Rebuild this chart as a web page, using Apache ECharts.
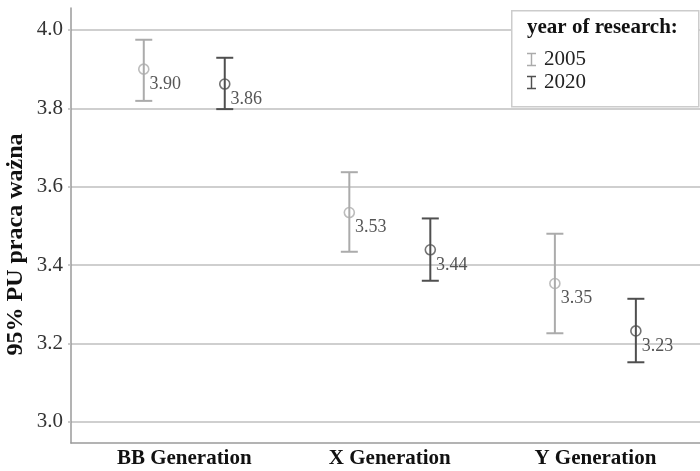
<!DOCTYPE html>
<html>
<head>
<meta charset="utf-8">
<script src="https://cdn.jsdelivr.net/npm/echarts@6/dist/echarts.min.js"></script>
<style>
html,body{margin:0;padding:0;background:#fff;}
#chart{width:700px;height:471px;}
</style>
</head>
<body>
<div id="chart"></div>
<script>
const categories = ['BB Generation', 'X Generation', 'Y Generation'];
const yTicks = [3.0, 3.2, 3.4, 3.6, 3.8, 4.0];
const mean2005 = [3.90, 3.534, 3.353];
const lower2005 = [3.819, 3.434, 3.226];
const upper2005 = [3.975, 3.637, 3.480];
const mean2020 = [3.862, 3.439, 3.232];
const lower2020 = [3.798, 3.360, 3.152];
const upper2020 = [3.929, 3.519, 3.314];

const FONT = 'Liberation Serif';
const C2005 = '#ababab';
const C2020 = '#4f4f4f';
const DODGE = 0.197;

function errData(lo, hi, off) {
  return lo.map((v, i) => [i + off, v, hi[i]]);
}
function ptData(m, off) {
  return m.map((v, i) => [i + off, v]);
}
function errRender(color) {
  return function (params, api) {
    const x = api.value(0), lo = api.value(1), hi = api.value(2);
    const a = api.coord([x, hi]), b = api.coord([x, lo]);
    const hw = 8.5;
    const st = { stroke: color, lineWidth: 2 };
    return {
      type: 'group',
      children: [
        { type: 'line', shape: { x1: a[0], y1: a[1], x2: b[0], y2: b[1] }, style: st },
        { type: 'line', shape: { x1: a[0] - hw, y1: a[1], x2: a[0] + hw, y2: a[1] }, style: st },
        { type: 'line', shape: { x1: b[0] - hw, y1: b[1], x2: b[0] + hw, y2: b[1] }, style: st }
      ]
    };
  };
}
function pointSeries(name, m, off, color) {
  return {
    name: name, type: 'scatter', data: ptData(m, off), z: 5,
    symbol: 'circle', symbolSize: 10,
    itemStyle: { color: 'transparent', borderColor: color, borderWidth: 1.6 },
    label: {
      show: true, position: 'right', distance: 0, offset: [0, 15],
      formatter: p => p.value[1].toFixed(2),
      fontFamily: FONT, fontSize: 18, color: '#2a2a2a'
    },
    emphasis: { disabled: true }
  };
}
const ibeam = 'path://M0,0H10V1.6H5.8V13.4H10V15H0V13.4H4.2V1.6H0Z';

const chart = echarts.init(document.getElementById('chart'), null, { renderer: 'canvas' });
chart.setOption({
  animation: false,
  backgroundColor: '#fff',
  grid: { left: 71, right: 0, top: 8, bottom: 28, containLabel: false, outerBoundsMode: 'none' },
  title: {
    text: 'year of research:', left: 527, top: 17, padding: 0, z: 10,
    textStyle: { fontFamily: FONT, fontSize: 21, fontWeight: 'bold', color: '#111' }
  },
  graphic: [{
    type: 'rect', z: 5, left: 511, top: 10,
    shape: { width: 187, height: 96 },
    style: { fill: '#fff', stroke: '#cccccc', lineWidth: 1.5 }
  }],
  legend: {
    orient: 'vertical', left: 527, top: 48, z: 10, padding: 0,
    itemWidth: 9, itemHeight: 13.5, itemGap: 0,
    textStyle: { fontFamily: FONT, fontSize: 21, lineHeight: 23, color: '#222', padding: [0, 0, 0, 3] },
    data: [
      { name: '2005', icon: ibeam, itemStyle: { color: C2005, borderWidth: 0 } },
      { name: '2020', icon: ibeam, itemStyle: { color: C2020, borderWidth: 0 } }
    ],
    selectedMode: false
  },
  xAxis: {
    type: 'value', min: -0.551, max: 2.509,
    splitLine: { show: false },
    axisTick: { show: false },
    axisLine: { show: true, onZero: false, lineStyle: { color: '#9a9a9a', width: 1.5 } },
    axisLabel: {
      customValues: [0, 1, 2],
      formatter: v => categories[Math.round(v)],
      fontFamily: FONT, fontSize: 21, fontWeight: 'bold', color: '#111', margin: 5
    }
  },
  yAxis: {
    type: 'value', min: 2.946, max: 4.056,
    name: '95% PU praca ważna', nameLocation: 'middle', nameGap: 43, nameMoveOverlap: false,
    nameTextStyle: { fontFamily: FONT, fontSize: 24, fontWeight: 'bold', color: '#111', padding: [0, 38, 0, 0] },
    axisLine: { show: true, onZero: false, lineStyle: { color: '#9a9a9a', width: 1.5 } },
    axisTick: { show: true, length: 3, customValues: yTicks, lineStyle: { color: '#bbbbbb', width: 1.5 } },
    splitLine: { show: true, lineStyle: { color: '#cfcfcf', width: 2 } },
    axisLabel: {
      customValues: yTicks,
      formatter: v => v.toFixed(1),
      fontFamily: FONT, fontSize: 21, color: '#333', margin: 8
    }
  },
  series: [
    {
      name: '2005', type: 'custom', renderItem: errRender(C2005),
      data: errData(lower2005, upper2005, -DODGE), encode: { x: 0, y: [1, 2] }, z: 4
    },
    {
      name: '2020', type: 'custom', renderItem: errRender(C2020),
      data: errData(lower2020, upper2020, DODGE), encode: { x: 0, y: [1, 2] }, z: 4
    },
    pointSeries('2005', mean2005, -DODGE, C2005),
    pointSeries('2020', mean2020, DODGE, C2020)
  ]
});
</script>
</body>
</html>
